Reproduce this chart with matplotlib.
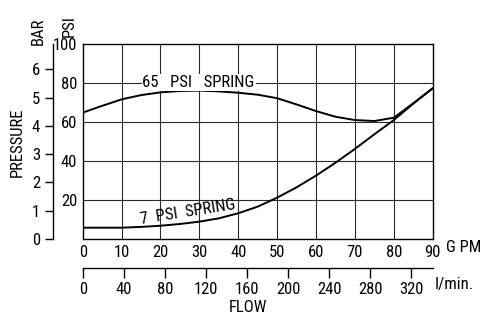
import matplotlib
matplotlib.use("Agg")
import matplotlib.pyplot as plt
from matplotlib import font_manager

names = {f.name for f in font_manager.fontManager.ttflist}
cands = ['Roboto Condensed', 'Liberation Sans Narrow', 'Roboto', 'DejaVu Sans']
fam = [c for c in cands if c in names]
plt.rcParams['font.family'] = fam
plt.rcParams['font.size'] = 12

# 65 PSI spring curve (flow in GPM, pressure in PSI)
gpm65 = [0, 4.4, 10, 15, 20, 25, 30, 35, 40, 45, 50, 55, 60, 65, 70, 75, 80, 85, 90]
psi65 = [64.8, 67.9, 71.6, 73.8, 75.2, 75.9, 76.1, 75.7, 75.0, 74.0, 72.2, 69.0, 65.6,
         62.7, 61.0, 60.5, 62.2, 69.6, 77.3]
# 7 PSI spring curve
gpm7 = [0, 10, 15, 20, 25, 30, 35, 40, 45, 50, 55, 60, 65, 70, 75, 80, 85, 90]
psi7 = [5.8, 5.8, 6.2, 6.8, 7.7, 8.9, 10.6, 13.2, 16.6, 21.2, 26.5, 32.5, 39.1, 46.2,
        53.7, 61.0, 69.4, 77.3]

gpm_ticks = [0, 10, 20, 30, 40, 50, 60, 70, 80, 90]
psi_ticks = [20, 40, 60, 80, 100]
bar_ticks = [0, 1, 2, 3, 4, 5, 6]
lmin_ticks = [0, 40, 80, 120, 160, 200, 240, 280, 320]

PSI_PER_BAR = 14.5038
LMIN_PER_GPM = 3.78541

W, H = 480, 314
fig = plt.figure(figsize=(W / 100, H / 100), dpi=100)
x0, x1, y0, y1 = 82.7, 432.7, 44, 239
ax = fig.add_axes([x0 / W, 1 - y1 / H, (x1 - x0) / W, (y1 - y0) / H])
ax.set_xlim(0, 90)
ax.set_ylim(0, 100)

for g in gpm_ticks[1:-1]:
    ax.axvline(g, color='#2a2a2a', lw=0.8, zorder=1)
for p in psi_ticks[:-1]:
    ax.axhline(p, color='#2a2a2a', lw=0.8, zorder=1)

ax.plot(gpm65, psi65, color='black', lw=1.4, zorder=3, solid_capstyle='round')
ax.plot(gpm7, psi7, color='black', lw=1.4, zorder=3, solid_capstyle='round')

ax.text(29.8, 80.3, '65   PSI   SPRING', ha='center', va='center', fontsize=12, zorder=4,
        bbox=dict(boxstyle='square,pad=0.05', fc='white', ec='none'))
ax.text(27, 13.6, '7  PSI  SPRING', ha='center', va='center', fontsize=12,
        rotation=9, rotation_mode='anchor', zorder=4)

for s in ax.spines.values():
    s.set_color('black')
    s.set_linewidth(1.0)

ax.set_xticks(gpm_ticks)
ax.set_xticklabels([str(v) for v in gpm_ticks])
ax.set_yticks(psi_ticks)
ax.set_yticklabels([str(v) for v in psi_ticks])
ax.tick_params(axis='both', length=0, pad=4, labelsize=12)

# BAR secondary axis
sy = ax.secondary_yaxis(-30 / (x1 - x0), functions=(lambda p: p / PSI_PER_BAR,
                                                      lambda b: b * PSI_PER_BAR))
sy.set_yticks(bar_ticks)
sy.set_yticklabels([str(v) for v in bar_ticks])
sy.tick_params(axis='y', length=6, width=1, direction='out', pad=3, labelsize=12)
sy.spines['left'].set_linewidth(1.0)

# l/min secondary axis
sx = ax.secondary_xaxis(-29 / (y1 - y0), functions=(lambda g: g * LMIN_PER_GPM,
                                                      lambda l: l / LMIN_PER_GPM))
sx.set_xticks(lmin_ticks)
sx.set_xticklabels([str(v) for v in lmin_ticks])
sx.tick_params(axis='x', length=7, width=1, direction='out', pad=3, labelsize=12)
sx.spines['bottom'].set_linewidth(1.0)

fig.text(446 / W, 1 - 248 / H, 'G PM', ha='left', va='center', fontsize=12)
fig.text(435 / W, 1 - 285 / H, 'I/min.', ha='left', va='center', fontsize=12)
fig.text(248 / W, 1 - 307 / H, 'FLOW', ha='center', va='center', fontsize=12)
fig.text(17 / W, 1 - 142 / H, 'PRESSURE', ha='center', va='center', rotation=90, fontsize=12)
fig.text(38 / W, 1 - 31 / H, 'BAR', ha='center', va='center', rotation=90, fontsize=12)
fig.text(69 / W, 1 - 26 / H, 'PSI', ha='center', va='center', rotation=90, fontsize=12)

fig.savefig('out.png', dpi=100)
